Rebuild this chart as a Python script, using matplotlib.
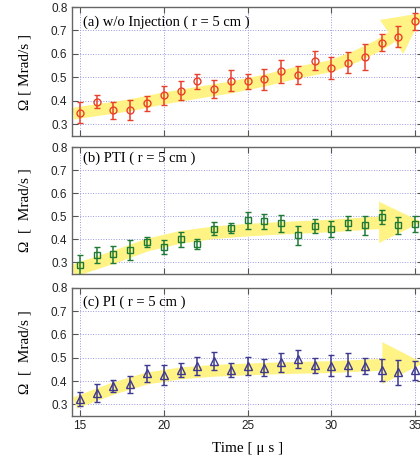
import numpy as np
import matplotlib
matplotlib.use("Agg")
import matplotlib.pyplot as plt

# time axis [us]
time_us = [15, 16, 17, 18, 19, 20, 21, 22, 23, 24, 25,
           26, 27, 28, 29, 30, 31, 32, 33, 34, 35]

# (a) w/o injection
omega_a = [0.349, 0.396, 0.359, 0.360, 0.389, 0.423, 0.444, 0.483, 0.449, 0.486, 0.483,
           0.491, 0.526, 0.510, 0.571, 0.539, 0.563, 0.587, 0.647, 0.674, 0.739]
err_a = [0.045, 0.028, 0.037, 0.043, 0.031, 0.042, 0.040, 0.033, 0.038, 0.046, 0.033,
         0.045, 0.049, 0.040, 0.040, 0.047, 0.046, 0.057, 0.036, 0.044, 0.037]

# (b) PTI
omega_b = [0.288, 0.332, 0.335, 0.355, 0.390, 0.367, 0.401, 0.381, 0.446, 0.449, 0.483,
           0.478, 0.470, 0.417, 0.458, 0.446, 0.470, 0.461, 0.497, 0.461, 0.468]
err_b = [0.043, 0.033, 0.037, 0.043, 0.021, 0.032, 0.033, 0.022, 0.028, 0.020, 0.036,
         0.031, 0.037, 0.042, 0.032, 0.034, 0.031, 0.040, 0.029, 0.036, 0.034]

# (c) PI
omega_c = [0.324, 0.350, 0.379, 0.386, 0.433, 0.428, 0.447, 0.464, 0.486, 0.447, 0.464,
           0.458, 0.480, 0.494, 0.468, 0.465, 0.471, 0.464, 0.447, 0.437, 0.447]
err_c = [0.030, 0.039, 0.027, 0.037, 0.037, 0.043, 0.029, 0.038, 0.040, 0.029, 0.040,
         0.037, 0.039, 0.040, 0.033, 0.045, 0.048, 0.035, 0.047, 0.055, 0.041]

# yellow trend arrows (shaft + head)
shaft_a_x = [14.6, 16, 18, 20, 22, 24, 26, 28, 30, 31.5, 32.8, 33.6]
shaft_a_y = [0.345, 0.360, 0.381, 0.410, 0.434, 0.457, 0.486, 0.521, 0.548, 0.590, 0.635, 0.672]
head_a_x = [32.9, 34.3, 35.5]
head_a_y = [0.745, 0.600, 0.775]

shaft_b_x = [14.6, 15, 17, 19, 21, 23, 25, 27, 30, 32.9]
shaft_b_y = [0.262, 0.274, 0.322, 0.375, 0.409, 0.429, 0.440, 0.448, 0.458, 0.472]
head_b_x = [32.85, 32.85, 35.4]
head_b_y = [0.563, 0.384, 0.475]

shaft_c_x = [14.7, 15, 17, 19, 21, 23, 25, 27, 30, 33.05]
shaft_c_y = [0.305, 0.314, 0.368, 0.411, 0.433, 0.444, 0.450, 0.455, 0.460, 0.470]
head_c_x = [33.05, 33.05, 35.5]
head_c_y = [0.567, 0.387, 0.477]

labels = ["(a) w/o Injection ( r = 5 cm )", "(b) PTI ( r = 5 cm )", "(c) PI ( r = 5 cm )"]
ylabels = ["\u03a9 [ Mrad/s ]", "\u03a9  [  Mrad/s ]", "\u03a9  [  Mrad/s ]"]

panels = [
    (omega_a, err_a, "o", "#e8402c", shaft_a_x, shaft_a_y, head_a_x, head_a_y, 8.5),
    (omega_b, err_b, "s", "#1f7a36", shaft_b_x, shaft_b_y, head_b_x, head_b_y, 9.0),
    (omega_c, err_c, "^", "#3d3890", shaft_c_x, shaft_c_y, head_c_x, head_c_y, 8.5),
]

# axes boxes in figure fraction (left, bottom, width, height)
boxes = [
    (0.1705, 0.7037, 0.8377, 0.281),
    (0.1705, 0.4030, 0.8377, 0.2767),
    (0.1705, 0.0937, 0.8377, 0.279),
]
label_y = [0.885, 0.91, 0.885]

arrow_col = "#fff386"
serif = "Liberation Serif"

fig = plt.figure(figsize=(4.2, 4.59), dpi=100)

for i, (vals, errs, mk, col, sx, sy, hx, hy, sw) in enumerate(panels):
    ax = fig.add_axes(boxes[i])
    ax.plot(sx, sy, color=arrow_col, lw=sw, solid_capstyle="butt",
            solid_joinstyle="round", zorder=2.5)
    ax.fill(hx, hy, color=arrow_col, lw=0, zorder=2.5)
    ax.errorbar(time_us, vals, yerr=errs, fmt=mk, mfc="none", mec=col, ecolor=col,
                ms=5 if mk != "^" else 5.5, mew=1.0, elinewidth=1.1, capsize=2.5,
                capthick=1.0, zorder=3)

    ax.set_xlim(14.5, 35.5)
    ax.set_ylim(0.25, 0.8)
    ax.set_xticks([15, 20, 25, 30, 35])
    ax.set_yticks([0.3, 0.4, 0.5, 0.6, 0.7, 0.8])
    ax.grid(True, color="#9a9ae0", ls=":", lw=0.7, zorder=2)
    ax.tick_params(direction="in", top=True, right=True, length=4, width=0.8,
                   color="#555555", labelsize=8.5, labelcolor="#222222", pad=3)
    for lab in ax.get_xticklabels() + ax.get_yticklabels():
        lab.set_family("Liberation Sans")
    for sp in ax.spines.values():
        sp.set_color("#666666")
        sp.set_linewidth(1.0)
    if i < 2:
        ax.tick_params(labelbottom=False)
    else:
        ax.set_xlabel("Time [ \u03bc s ]", family=serif, fontsize=11, labelpad=7)
    ax.set_ylabel(ylabels[i], family=serif, fontsize=11)
    ax.yaxis.set_label_coords(-0.115, 0.5)
    ax.text(0.032, label_y[i], labels[i], transform=ax.transAxes, family=serif,
            fontsize=10.5, va="center", ha="left", zorder=5)

fig.savefig("out.png", dpi=100)
